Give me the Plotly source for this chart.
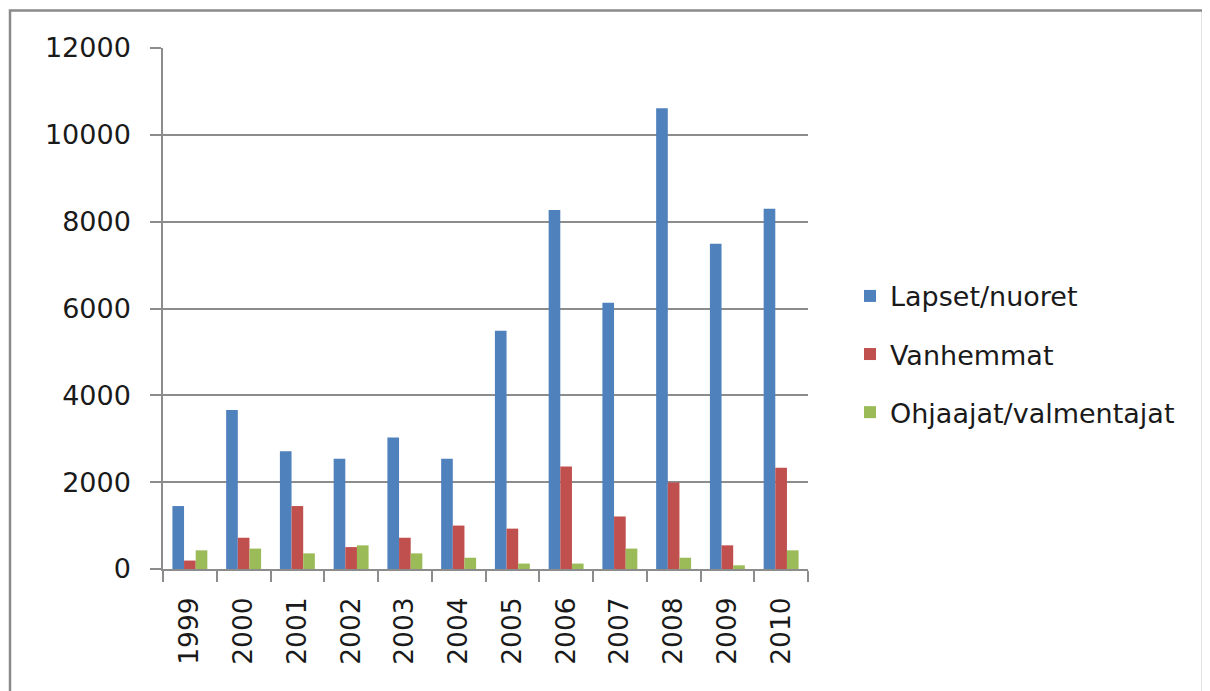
import plotly.graph_objects as go

years = ["1999", "2000", "2001", "2002", "2003", "2004", "2005", "2006", "2007", "2008", "2009", "2010"]
lapset_nuoret = [1450, 3660, 2710, 2540, 3030, 2540, 5490, 8270, 6130, 10610, 7490, 8300]
vanhemmat = [195, 720, 1450, 505, 720, 1000, 930, 2360, 1210, 1990, 545, 2330]
ohjaajat_valmentajat = [430, 470, 360, 545, 360, 260, 125, 125, 470, 260, 85, 430]
y_ticks = [0, 2000, 4000, 6000, 8000, 10000, 12000]
y_tick_labels = ["0", "2000", "4000", "6000", "8000", "10000", "12000"]

series = [
    ("Lapset/nuoret", lapset_nuoret, "#4F81BD"),
    ("Vanhemmat", vanhemmat, "#C0504D"),
    ("Ohjaajat/valmentajat", ohjaajat_valmentajat, "#9BBB59"),
]

FONT = "DejaVu Sans"
TXT = "#1a1a1a"
OFF = 8  # page body margin
W, H = 1210 - OFF, 691 - OFF

fig = go.Figure()
for i, (name, vals, col) in enumerate(series):
    fig.add_trace(go.Bar(
        x=years, y=vals, name=name, legendgroup=f"g{i}",
        marker=dict(color=col, line=dict(width=0)),
    ))

# plot area in page pixels
PL, PR, PT, PB = 163, 808, 47.5, 568.7
L = PL - OFF
T = PT - OFF
R = W - (PR - OFF)
B = H - (PB - OFF)
pw = PR - PL
ph = PB - PT

def px_x(p):
    return (p - PL) / pw

def px_y(p):
    return (PB - p) / ph

fig.update_layout(
    width=W, height=H,
    margin=dict(l=L, r=R, t=T, b=B, pad=0),
    paper_bgcolor="white", plot_bgcolor="white",
    barmode="group", bargap=0.35, bargroupgap=0,
    font=dict(family=FONT, size=26, color=TXT),
    legend=dict(
        x=px_x(850), y=px_y(354), xanchor="left", yanchor="middle",
        font=dict(family=FONT, size=27, color=TXT),
        tracegroupgap=20, itemwidth=30,
        bgcolor="rgba(0,0,0,0)",
    ),
    showlegend=True,
    xaxis=dict(
        type="category", showgrid=False, showline=True, linecolor="#8c8c8c", linewidth=1.5,
        ticks="outside", tickson="boundaries", ticklen=11, tickcolor="#8c8c8c", tickwidth=1.5,
        tickangle=-90, tickfont=dict(family=FONT, size=26.5, color=TXT),
        ticklabelstandoff=16,
    ),
    yaxis=dict(
        range=[0, 12000], tickvals=y_ticks, ticktext=y_tick_labels,
        showgrid=True, gridcolor="#8c8c8c", gridwidth=1.5,
        showline=True, linecolor="#8c8c8c", linewidth=1.5,
        zeroline=False,
        ticks="outside", ticklen=11, tickcolor="#8c8c8c", tickwidth=1.5,
        tickfont=dict(family=FONT, size=27, color=TXT),
        ticklabelstandoff=14,
    ),
    shapes=[dict(
        type="rect", xref="paper", yref="paper",
        x0=px_x(10), x1=px_x(1203), y0=px_y(720), y1=px_y(10),
        line=dict(color="#8a8a8a", width=2.5), fillcolor="rgba(0,0,0,0)", layer="below",
    )],
)

fig.write_html("out.html")
